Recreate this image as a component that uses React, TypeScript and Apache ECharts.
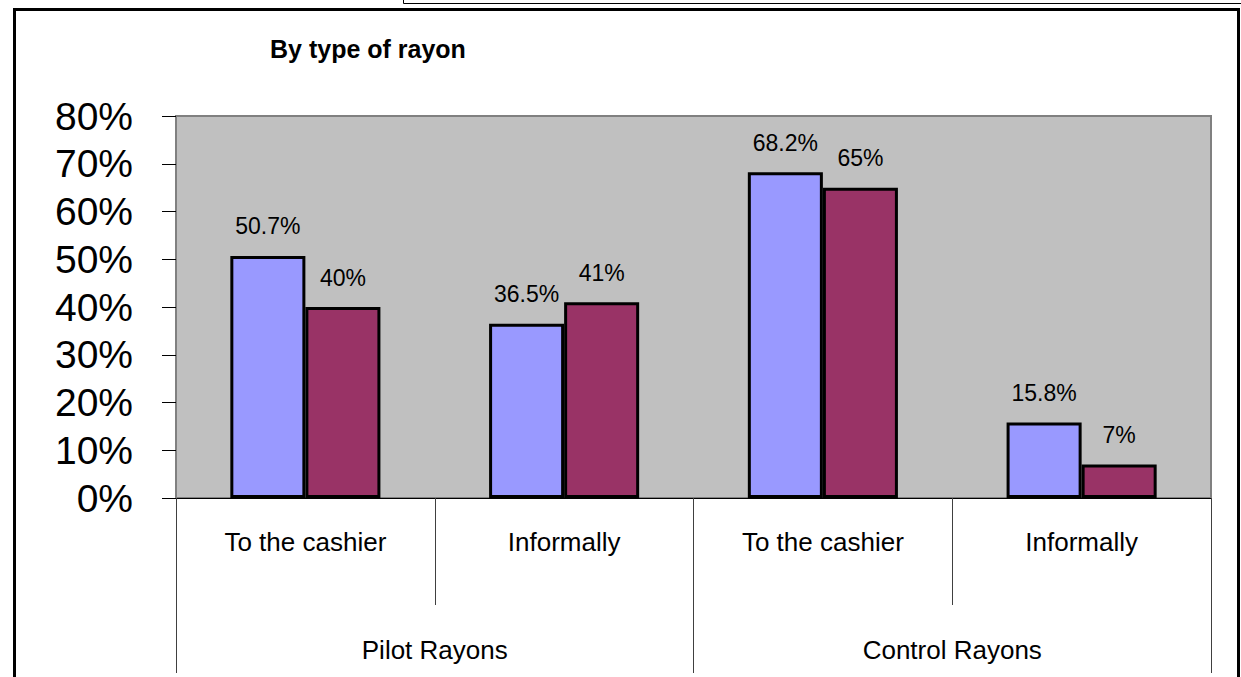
import React, { useEffect, useRef } from "react";
import * as echarts from "echarts";

const title = "By type of rayon";
const categories = ["To the cashier", "Informally", "To the cashier", "Informally"];
const groups = ["Pilot Rayons", "Control Rayons"];
const seriesA = [50.7, 36.5, 68.2, 15.8];
const seriesB = [40, 41, 65, 7];
const yTicks = [0, 10, 20, 30, 40, 50, 60, 70, 80];

const FONT = "'Liberation Sans', Arial, sans-serif";

export default function App() {
  const ref = useRef<HTMLDivElement>(null);
  useEffect(() => {
    if (!ref.current) return;
    const chart = echarts.init(ref.current, null, { renderer: "svg" });
    const labelCfg = {
      show: true,
      position: "top",
      distance: 18,
      fontSize: 23,
      color: "#000",
      fontFamily: FONT,
      formatter: (p: any) => `${p.value}%`,
    };
    chart.setOption({
      animation: false,
      backgroundColor: "#fff",
      textStyle: { fontFamily: FONT },
      title: {
        text: title,
        left: 265,
        top: 31,
        textStyle: { fontSize: 25, fontWeight: "bold", color: "#000", fontFamily: FONT },
      },
      graphic: [
        {
          type: "rect",
          shape: { x: 14.5, y: 9.5, width: 1224, height: 720 },
          style: { fill: "none", stroke: "#000", lineWidth: 3 },
          z: 100,
        },
        {
          type: "polyline",
          shape: { points: [[403.5, 0], [403.5, 3.5], [1241, 3.5]] },
          style: { fill: "none", stroke: "#000", lineWidth: 1 },
          z: 100,
        },
      ],
      grid: {
        left: 176,
        top: 116,
        right: 30,
        bottom: 179,
        show: true,
        backgroundColor: "#C0C0C0",
        borderColor: "#808080",
        borderWidth: 2,
      },
      yAxis: {
        type: "value",
        min: yTicks[0],
        max: yTicks[yTicks.length - 1],
        interval: 10,
        splitLine: { show: false },
        axisLine: { show: true, lineStyle: { color: "#808080", width: 2 } },
        axisTick: { show: true, length: 14, lineStyle: { color: "#000", width: 1 } },
        axisLabel: {
          fontSize: 39,
          color: "#000",
          margin: 43,
          fontFamily: FONT,
          formatter: (v: number) => `${v}%`,
        },
      },
      xAxis: [
        {
          type: "category",
          data: categories,
          position: "bottom",
          axisLine: { show: true, lineStyle: { color: "#000", width: 1 } },
          axisTick: { show: true, length: 107, lineStyle: { color: "#404040", width: 1 } },
          axisLabel: { fontSize: 26, color: "#000", margin: 31, fontFamily: FONT },
        },
        {
          type: "category",
          data: groups,
          position: "bottom",
          axisLine: { show: false },
          axisTick: { show: true, length: 175, lineStyle: { color: "#404040", width: 1 } },
          axisLabel: { fontSize: 26, color: "#000", margin: 139, fontFamily: FONT },
        },
      ],
      series: [
        {
          type: "bar",
          data: seriesA,
          xAxisIndex: 0,
          barGap: "0%",
          barCategoryGap: "42%",
          itemStyle: { color: "#9999FF", borderColor: "#000", borderWidth: 3 },
          label: labelCfg,
        },
        {
          type: "bar",
          data: seriesB,
          xAxisIndex: 0,
          barGap: "0%",
          barCategoryGap: "42%",
          itemStyle: { color: "#993366", borderColor: "#000", borderWidth: 3 },
          label: labelCfg,
        },
      ],
    });
    return () => chart.dispose();
  }, []);
  return (
    <div
      ref={ref}
      style={{ position: "fixed", left: 0, top: 0, width: 1241, height: 677 }}
    />
  );
}
